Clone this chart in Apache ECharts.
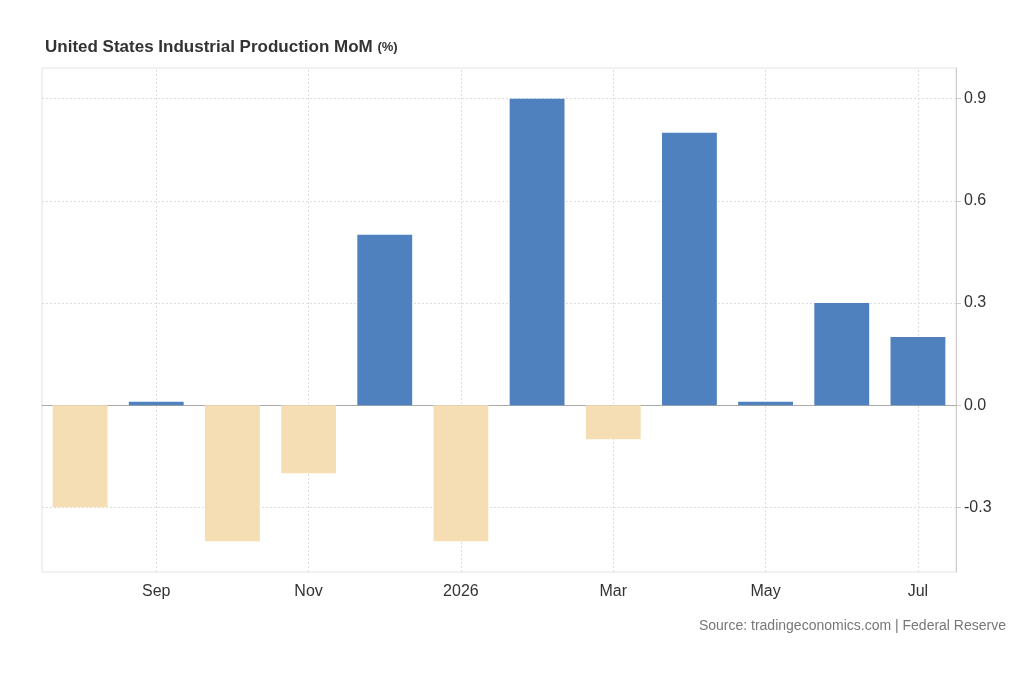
<!DOCTYPE html>
<html><head><meta charset="utf-8">
<script src="https://cdn.jsdelivr.net/npm/echarts@6/dist/echarts.min.js"></script>
<style>html,body{margin:0;background:#fff}#c{width:1024px;height:700px}</style>
</head><body><div id="c"></div>
<script>
const categories = ['Aug','Sep','Oct','Nov','Dec','2026','Feb','Mar','Apr','May','Jun','Jul'];
const values = [-0.3, 0.01, -0.4, -0.2, 0.5, -0.4, 0.9, -0.1, 0.8, 0.01, 0.3, 0.2];
const yTicks = [-0.3, 0, 0.3, 0.6, 0.9];
const xLabelled = ['Sep','Nov','2026','Mar','May','Jul'];

const chart = echarts.init(document.getElementById('c'));
const dotted = {color:'#dddddd', type:[2,2], width:1};
chart.setOption({
  animation:false,
  title:{text:'United States Industrial Production MoM {u|(%)}', left:40, top:34,
    textStyle:{fontFamily:'Liberation Sans', fontSize:17, fontWeight:'bold', color:'#333',
      rich:{u:{fontSize:13, fontWeight:'bold', color:'#333'}}}},
  graphic:[{type:'text', right:18, top:619, style:{text:'Source: tradingeconomics.com | Federal Reserve',
    fontFamily:'Liberation Sans', fontSize:14, fill:'#777'}}],
  grid:{left:42, right:68, top:68, bottom:128, show:true, borderColor:'#e2e2e2', borderWidth:1},
  xAxis:{type:'category', data:categories,
    axisLine:{lineStyle:{color:'#aaa'}}, axisTick:{show:false},
    axisLabel:{interval:0, margin:12, fontFamily:'Liberation Sans', fontSize:16, color:'#333',
      formatter:v=>xLabelled.includes(v)?v:''}},
  yAxis:{type:'value', position:'right', min:-0.49, max:0.99, splitLine:{show:false},
    axisLine:{show:true, lineStyle:{color:'#ccc'}},
    axisTick:{show:true, customValues:yTicks, length:5, lineStyle:{color:'#ccc'}},
    axisLabel:{customValues:yTicks, margin:8, fontFamily:'Liberation Sans', fontSize:16, color:'#333',
      formatter:v=>v.toFixed(1)}},
  series:[
    {type:'line', data:[], z:0, silent:true,
      markLine:{silent:true, symbol:'none', label:{show:false}, lineStyle:dotted, z:0,
        data:[...xLabelled.map(c=>({xAxis:c})), ...yTicks.map(t=>({yAxis:t}))]}},
    {type:'bar', barCategoryGap:'28%', z:5,
      data:values.map(v=>({value:v, itemStyle:{color:v<0?'#f5deb3':'#4e81bd'}}))}
  ]
});
</script></body></html>
